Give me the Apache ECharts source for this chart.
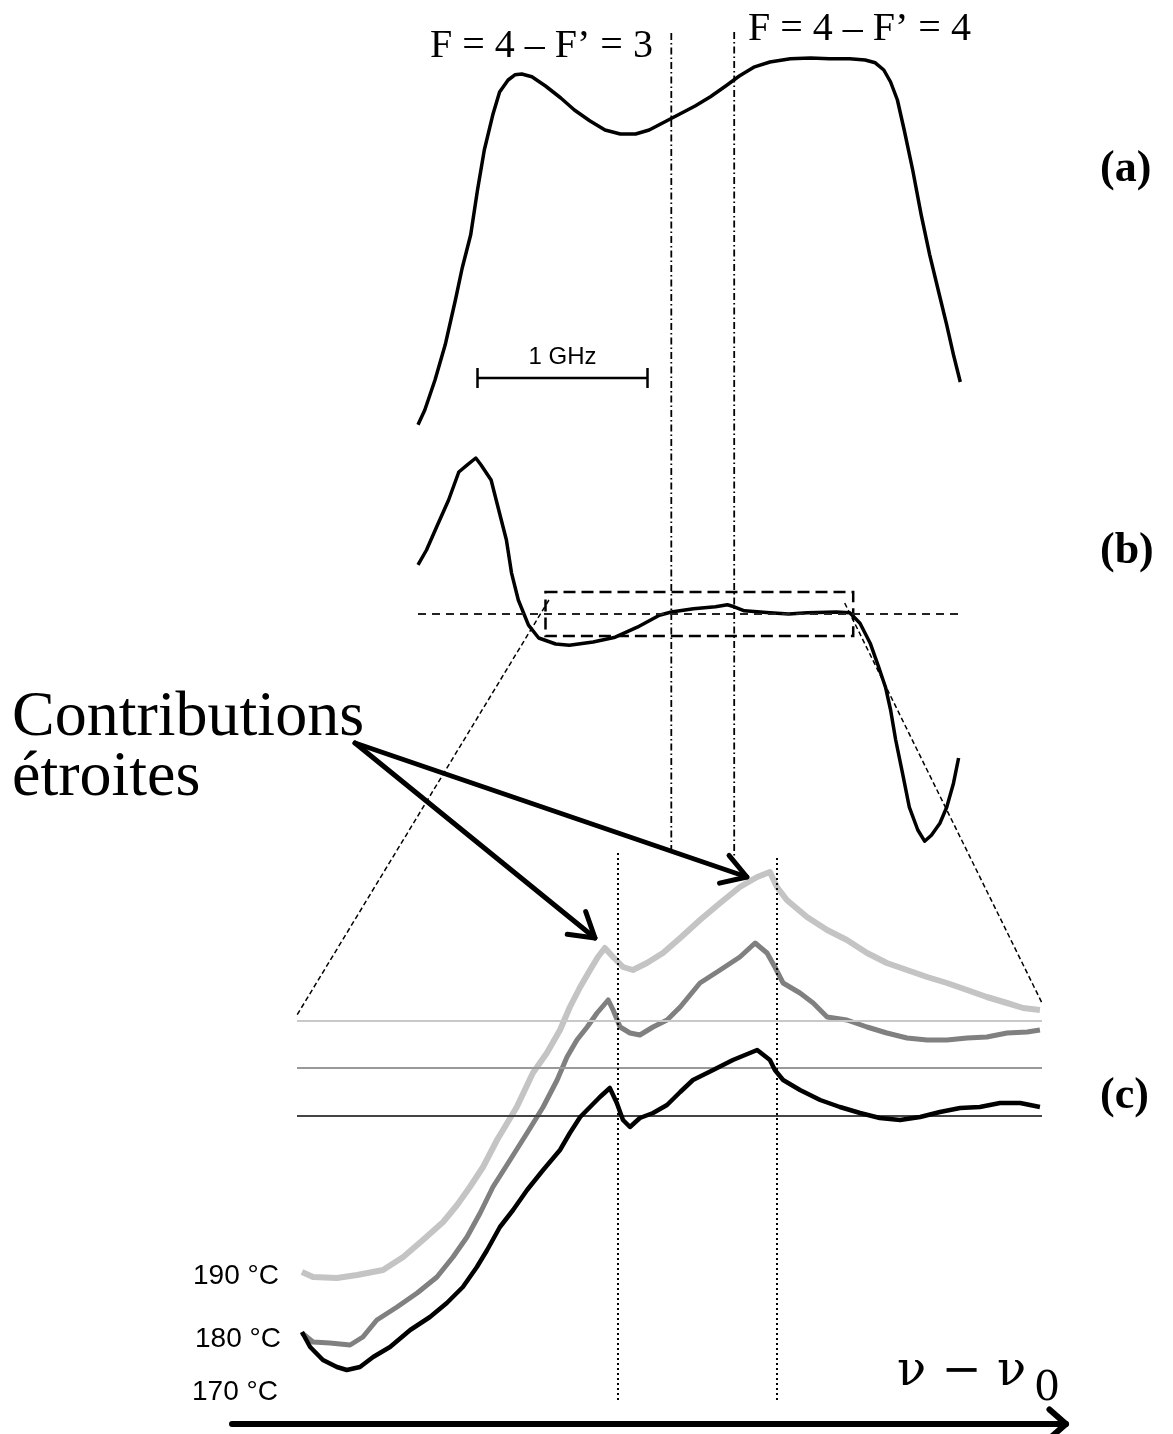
<!DOCTYPE html>
<html>
<head>
<meta charset="utf-8">
<script src="https://cdn.jsdelivr.net/npm/echarts@6/dist/echarts.min.js"></script>
<style>html,body{margin:0;padding:0;background:#fff;}#main{width:1173px;height:1434px;}</style>
</head>
<body>
<div id="main"></div>
<script>
// ---------- DATA (frequency in GHz, signals in arbitrary units) ----------
// (a) absorption
const freqA = [0.00,0.04,0.10,0.16,0.22,0.26,0.31,0.35,0.39,0.44,0.48,0.53,0.57,0.61,0.67,0.75,0.84,0.92,1.01,1.10,1.19,1.28,1.36,1.45,1.54,1.63,1.72,1.81,1.89,1.98,2.07,2.19,2.31,2.42,2.54,2.63,2.69,2.74,2.78,2.82,2.86,2.91,2.96,3.01,3.06,3.11,3.15,3.19];
const sigA  = [3.8,7.5,15,23.8,35,43,51.3,62.5,72.5,81.3,87,90,91.3,91.5,90.8,88.5,85.5,82.5,79.8,77.5,76.5,76.5,77.5,79.5,81.5,83.5,85.8,88.5,91,93.3,94.5,95.3,95.5,95.3,95.3,95,94.3,92.5,89.5,85,77.5,67.5,56.3,46.3,37.5,28.8,21.3,14.5];
// (b) derivative-like signal
const freqB = [0.00,0.05,0.11,0.18,0.24,0.29,0.34,0.37,0.43,0.47,0.52,0.55,0.59,0.65,0.71,0.81,0.89,1.03,1.16,1.29,1.42,1.49,1.62,1.75,1.82,1.86,1.92,2.07,2.18,2.29,2.46,2.54,2.60,2.66,2.71,2.75,2.78,2.81,2.85,2.89,2.94,2.98,3.02,3.07,3.11,3.15,3.18];
const sigB  = [12.3,16,21.8,28.5,35.5,37.3,39,37.3,33.5,26.8,18.5,10.3,3.5,-2.8,-6,-7.5,-7.8,-7,-5.8,-3.3,-0.3,0.5,1.3,1.8,2.3,1.8,0.8,0.3,0,0.3,0.5,0.3,-2.3,-7.3,-13.3,-18.3,-24,-31.5,-39.8,-48.3,-54,-56.8,-55.3,-52.3,-48.3,-42.3,-36];
// (c) zoomed traces at three temperatures
const freqC190 = [0.762,0.789,0.847,0.896,0.959,1.008,1.056,1.105,1.139,1.170,1.202,1.236,1.284,1.323,1.357,1.389,1.413,1.438,1.462,1.481,1.498,1.518,1.542,1.566,1.600,1.639,1.681,1.729,1.778,1.826,1.868,1.899,1.916,1.940,1.989,2.038,2.086,2.135,2.183,2.232,2.281,2.329,2.378,2.426,2.475,2.514,2.555];
const sig190   = [25.6,24.6,24.4,25,26,28.6,32,35.6,39,42.6,46.6,52,58.6,65.4,69.4,74,78.6,82.6,86,88.6,90.4,88.6,86.6,86,87.4,89.4,92.4,96,99.4,102.6,104.6,105.6,102.6,100,96.6,94,92,89.4,87.4,86,84.6,83.4,82,80.6,79.4,78.4,78];
const freqC180 = [0.762,0.789,0.830,0.879,0.910,0.944,0.993,1.042,1.090,1.129,1.163,1.195,1.226,1.260,1.309,1.348,1.382,1.406,1.430,1.455,1.479,1.506,1.518,1.535,1.559,1.583,1.615,1.649,1.681,1.729,1.778,1.826,1.863,1.892,1.911,1.931,1.972,2.004,2.038,2.086,2.135,2.183,2.232,2.281,2.329,2.378,2.426,2.475,2.524,2.555];
const sig180   = [13.4,11.6,11.4,11,12.6,16,18.6,21.4,24.6,28.6,32.6,37.4,42.6,47,53.4,58.6,64,68.6,72,74.6,77.4,80,78,74.6,73.4,73,74.6,76,78.6,83.4,86,88.6,91.4,89.4,86.6,83.4,81.4,79.4,76.6,76,74.6,73.4,72.4,72,72,72.4,72.6,73.4,73.6,74];
const freqC170 = [0.762,0.782,0.813,0.847,0.871,0.903,0.935,0.976,1.025,1.073,1.114,1.153,1.187,1.212,1.243,1.275,1.309,1.348,1.389,1.413,1.438,1.462,1.486,1.510,1.527,1.542,1.559,1.583,1.615,1.649,1.681,1.712,1.761,1.809,1.868,1.899,1.911,1.931,1.972,2.021,2.069,2.118,2.166,2.215,2.264,2.312,2.361,2.409,2.458,2.507,2.555];
const sig170   = [13.6,10.6,8,6.6,6,6.6,8.6,10.6,14,16.6,19.4,22.6,26.6,30,34.6,38,42,46,50,53.4,56.6,58.6,60.6,62.4,59.4,56,54.6,56.4,57.4,59,61.6,64,66,68,70,68,66,64,62,60,58.6,57.4,56.4,56,56.6,57.6,58.4,58.6,59.4,59.4,58.6];
const tempLabels = ['190 °C', '180 °C', '170 °C'];
const baselinesC = [75.8, 66.4, 56.8];      // reference level of each trace
const transitionsF = [1.49, 1.86];          // F=4→F'=3 and F=4→F'=4 markers (GHz)
const peaksC = [1.53, 1.916];               // narrow contribution positions in (c)
const zoomBox = [0.75, 2.56, -5.5, 5.5];    // region of (b) shown in (c)
const scaleBarGHz = [0.35, 1.35];

const zip = (xs, ys) => xs.slice(0, Math.min(xs.length, ys.length)).map((x, i) => [x, ys[i]]);

const chart = echarts.init(document.getElementById('main'), null, {renderer: 'canvas'});
const hidden = {show: false};
const noAxis = {axisLine: hidden, axisTick: hidden, axisLabel: hidden, splitLine: hidden};
const option = {
  backgroundColor: '#fff',
  animation: false,
  grid: [
    {left: 418, top: 40, width: 544, height: 400},
    {left: 418, top: 414, width: 544, height: 440},
    {left: 297, top: 850, width: 745, height: 550}
  ],
  xAxis: [
    Object.assign({gridIndex: 0, type: 'value', min: 0, max: 3.2}, noAxis),
    Object.assign({gridIndex: 1, type: 'value', min: 0, max: 3.2}, noAxis),
    Object.assign({gridIndex: 2, type: 'value', min: 0.75, max: 2.56}, noAxis)
  ],
  yAxis: [
    Object.assign({gridIndex: 0, type: 'value', min: 0, max: 100}, noAxis),
    Object.assign({gridIndex: 1, type: 'value', min: -60, max: 50}, noAxis),
    Object.assign({gridIndex: 2, type: 'value', min: 0, max: 110}, noAxis)
  ],
  series: [
    {type: 'line', xAxisIndex: 0, yAxisIndex: 0, data: zip(freqA, sigA), showSymbol: false, symbol: 'none',
     lineStyle: {color: '#000', width: 3.5, join: 'round'}, z: 3},
    {type: 'line', xAxisIndex: 0, yAxisIndex: 0, data: scaleBarGHz.map(f => [f, 15.5]), symbol: 'rect', symbolSize: [2.5, 20],
     itemStyle: {color: '#000'}, lineStyle: {color: '#000', width: 2.5}, z: 3},
    {type: 'line', xAxisIndex: 1, yAxisIndex: 1, data: zip(freqB, sigB), showSymbol: false, symbol: 'none',
     lineStyle: {color: '#000', width: 3.5, join: 'round'}, z: 3,
     markLine: {silent: true, symbol: ['none', 'none'], label: {show: false},
       lineStyle: {color: '#222', width: 1.8, type: [8, 6]}, data: [{yAxis: 0}]},
     markArea: {silent: true, itemStyle: {color: 'rgba(0,0,0,0)', borderColor: '#000', borderWidth: 2.5, borderType: [12, 6]},
       data: [[{coord: [zoomBox[0], zoomBox[3]]}, {coord: [zoomBox[1], zoomBox[2]]}]]}},
    {type: 'line', name: tempLabels[0], xAxisIndex: 2, yAxisIndex: 2, data: zip(freqC190, sig190), showSymbol: false, symbol: 'none',
     lineStyle: {color: '#c4c4c4', width: 6, join: 'round'}, z: 3,
     markLine: {silent: true, symbol: ['none', 'none'], label: {show: false},
       lineStyle: {color: '#c8c8c8', width: 2, type: 'solid'}, data: [{yAxis: baselinesC[0]}]}},
    {type: 'line', name: tempLabels[1], xAxisIndex: 2, yAxisIndex: 2, data: zip(freqC180, sig180), showSymbol: false, symbol: 'none',
     lineStyle: {color: '#808080', width: 5, join: 'round'}, z: 4,
     markLine: {silent: true, symbol: ['none', 'none'], label: {show: false},
       lineStyle: {color: '#999', width: 2, type: 'solid'}, data: [{yAxis: baselinesC[1]}]}},
    {type: 'line', name: tempLabels[2], xAxisIndex: 2, yAxisIndex: 2, data: zip(freqC170, sig170), showSymbol: false, symbol: 'none',
     lineStyle: {color: '#000', width: 4.5, join: 'round'}, z: 5,
     markLine: {silent: true, symbol: ['none', 'none'], label: {show: false},
       lineStyle: {color: '#444', width: 2, type: 'solid'},
       data: [{yAxis: baselinesC[2]},
         [{coord: [peaksC[0], 0], lineStyle: {color: '#000', width: 2, type: [2, 3]}}, {coord: [peaksC[0], 109.4]}],
         [{coord: [peaksC[1], 0], lineStyle: {color: '#000', width: 2, type: [2, 3]}}, {coord: [peaksC[1], 108.4]}]]}}
  ]
};
chart.setOption(option);

const pA = (x, y) => chart.convertToPixel({gridIndex: 0}, [x, y]);
const pB = (x, y) => chart.convertToPixel({gridIndex: 1}, [x, y]);
const pC = (x, y) => chart.convertToPixel({gridIndex: 2}, [x, y]);

function arrowEls(x1, y1, x2, y2, w, len, ang) {
  const a = Math.atan2(y2 - y1, x2 - x1);
  const q1 = [x2 - len * Math.cos(a - ang), y2 - len * Math.sin(a - ang)];
  const q2 = [x2 - len * Math.cos(a + ang), y2 - len * Math.sin(a + ang)];
  return [
    {type: 'line', shape: {x1, y1, x2, y2}, style: {stroke: '#000', lineWidth: w, lineCap: 'round'}, z: 20},
    {type: 'polyline', shape: {points: [q1, [x2, y2], q2]}, style: {stroke: '#000', lineWidth: w, fill: null, lineJoin: 'round', lineCap: 'round'}, z: 20}
  ];
}
const txt = (text, x, y, font, extra) => Object.assign({type: 'text', z: 30,
  style: Object.assign({text, x, y, font, fill: '#000', align: 'left', verticalAlign: 'middle'}, extra || {})});

const g = [];
// transition markers (dash-dot) through (a) and (b)
const dashDotEnds = [[101.75, -59], [102, -61]];
transitionsF.forEach((f, i) => {
  const t = pA(f, dashDotEnds[i][0]);
  const b = pB(f, dashDotEnds[i][1]);
  g.push({type: 'line', shape: {x1: t[0], y1: t[1], x2: b[0], y2: b[1]}, style: {stroke: '#000', lineWidth: 1.8, lineDash: [7, 3, 1.5, 3]}, z: 2});
});
// zoom projection lines from (b) box to (c)
const L1 = pB(0.77, 3.5), L2 = pC(0.75, 77);
const R1 = pB(2.51, 2.75), R2 = pC(2.56, 79.4);
g.push({type: 'line', shape: {x1: L1[0], y1: L1[1], x2: L2[0], y2: L2[1]}, style: {stroke: '#000', lineWidth: 1.5, lineDash: [5, 3]}, z: 2});
g.push({type: 'line', shape: {x1: R1[0], y1: R1[1], x2: R2[0], y2: R2[1]}, style: {stroke: '#000', lineWidth: 1.5, lineDash: [5, 3]}, z: 2});
// arrows to narrow contributions
const h1 = pC(1.474, 92.4), h2 = pC(1.843, 104.6);
g.push(...arrowEls(355, 743, h1[0], h1[1], 5, 28, 0.55));
g.push(...arrowEls(355, 743, h2[0], h2[1], 5, 28, 0.55));
// frequency axis arrow
g.push(...arrowEls(232, 1424, 1066, 1424, 6, 22, 0.72));
// scale bar label
const sb = pA((scaleBarGHz[0] + scaleBarGHz[1]) / 2, 15.5);
g.push(txt('1 GHz', sb[0], sb[1] - 21, '24px "Liberation Sans", Arial, sans-serif', {align: 'center'}));
// texts
const serif = '"Liberation Serif", "Times New Roman", serif';
g.push(txt('F = 4 – F’ = 3', 430, 46, '40px ' + serif));
g.push(txt('F = 4 – F’ = 4', 748, 29, '40px ' + serif));
g.push(txt('(a)', 1100, 170, 'bold 44px ' + serif));
g.push(txt('(b)', 1100, 552, 'bold 44px ' + serif));
g.push(txt('(c)', 1100, 1097, 'bold 44px ' + serif));
g.push(txt('Contributions', 12, 718, '64px ' + serif));
g.push(txt('étroites', 12, 778, '64px ' + serif));
const tempY = [1276, 1339, 1392], tempX = [193, 195, 192];
tempLabels.forEach((t, i) => g.push(txt(t, tempX[i], tempY[i], '28px "Liberation Sans", Arial, sans-serif')));
g.push(txt('ν − ν', 897, 1373, '48px "DejaVu Serif", serif'));
g.push(txt('0', 1034, 1389, '41px "DejaVu Serif", serif'));

chart.setOption({graphic: g});
</script>
</body>
</html>
